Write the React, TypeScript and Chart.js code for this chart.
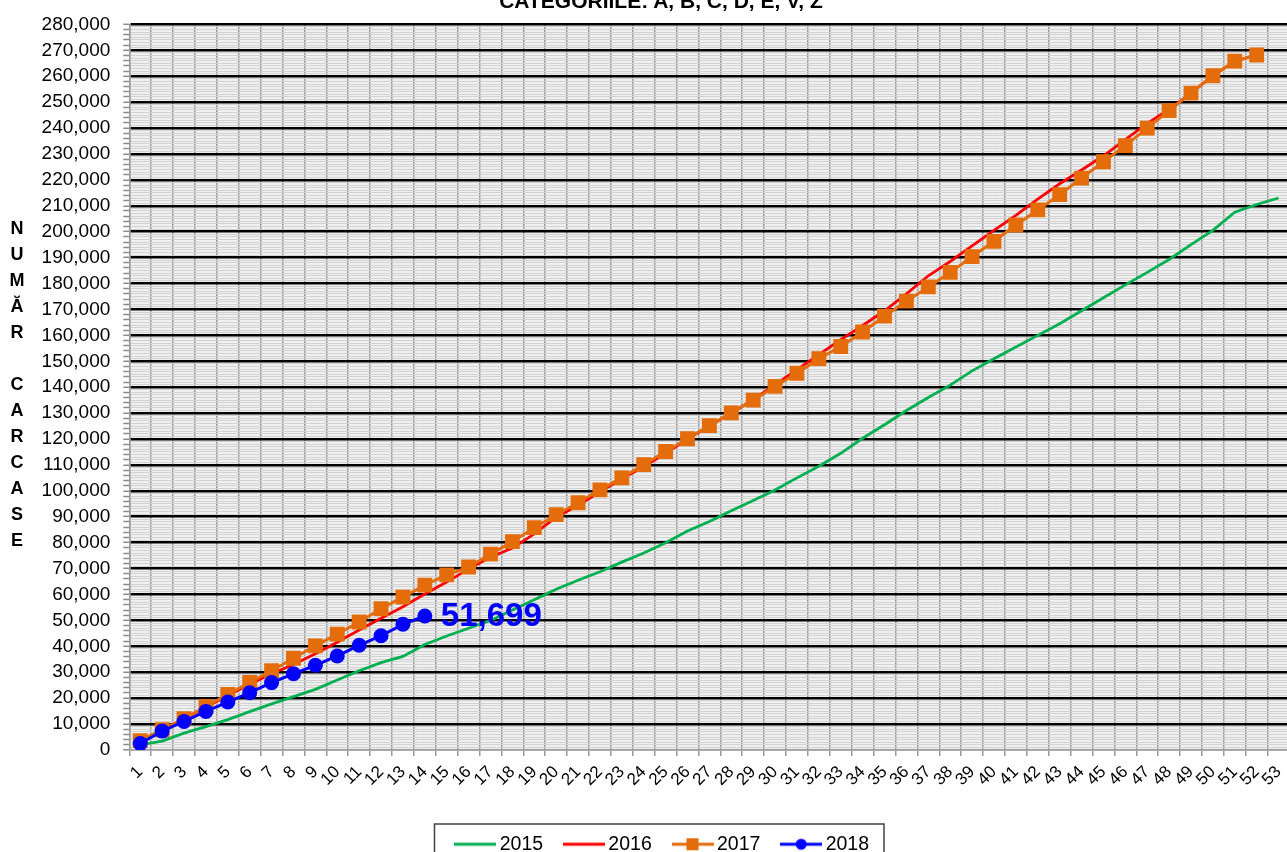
import React, { useEffect, useRef } from 'react';
import { Chart, registerables } from 'chart.js';

Chart.register(...registerables);

const weeks = ['1', '2', '3', '4', '5', '6', '7', '8', '9', '10', '11', '12', '13', '14', '15', '16', '17', '18', '19', '20', '21', '22', '23', '24', '25', '26', '27', '28', '29', '30', '31', '32', '33', '34', '35', '36', '37', '38', '39', '40', '41', '42', '43', '44', '45', '46', '47', '48', '49', '50', '51', '52', '53'];

const seriesNames = ['2015', '2016', '2017', '2018'];

const values2015 = [2000, 3400, 6500, 9000, 11700, 14800, 17800, 20600, 23400, 27000, 30600, 33700, 36100, 40700, 44000, 47000, 50000, 54000, 58000, 62000, 65500, 68800, 72500, 76000, 80000, 84500, 88200, 92300, 96300, 100300, 105000, 109500, 114500, 120300, 125500, 131000, 136000, 140800, 146300, 151000, 155500, 160000, 164500, 169500, 174500, 179500, 184300, 189300, 195000, 200500, 207500, 210500, 213000];

const values2016 = [3500, 7600, 12000, 16500, 21000, 25400, 29400, 33000, 37100, 41600, 46300, 50800, 55300, 60200, 64800, 69900, 74400, 77900, 83400, 89900, 94300, 99600, 104700, 109300, 114500, 120000, 125000, 130000, 135200, 141000, 146800, 152600, 158300, 163800, 169500, 176000, 183000, 188500, 194500, 200500, 206300, 212600, 218500, 223800, 229300, 235500, 241800, 247200, 253500, 260200, 265800, 268200];

const values2017 = [3600, 7800, 12100, 16800, 21400, 26100, 30600, 35400, 40200, 44700, 49400, 54500, 59000, 63600, 67600, 70600, 75600, 80400, 85800, 90800, 95400, 100400, 105000, 110100, 115200, 120100, 125200, 130100, 135000, 140300, 145400, 151000, 155700, 161300, 167400, 173200, 178700, 184300, 190400, 196300, 202600, 208400, 214300, 220700, 227000, 233200, 240000, 246700, 253500, 260200, 265800, 268200];

const values2018 = [2500, 7300, 11000, 14900, 18500, 22100, 26000, 29400, 32700, 36300, 40400, 44100, 48500, 51699];

const lastValueLabel = '51,699';
const chartTitle = 'CATEGORIILE: A, B, C, D, E, V, Z';
const axisTitleLetters = ['N', 'U', 'M', 'Ă', 'R', '', 'C', 'A', 'R', 'C', 'A', 'S', 'E'];

const FONT = '"Liberation Sans", Arial, Helvetica, sans-serif';
const GREEN = '#00B050';
const RED = '#FF0000';
const ORANGE = '#E46C0A';
const BLUE = '#0000FF';

function legendImage(color: string, marker: 'none' | 'square' | 'circle'): HTMLCanvasElement {
  const c = document.createElement('canvas');
  c.width = 42;
  c.height = 16;
  const g = c.getContext('2d')!;
  g.strokeStyle = color;
  g.lineWidth = 3;
  g.beginPath();
  g.moveTo(0, 8);
  g.lineTo(42, 8);
  g.stroke();
  g.fillStyle = color;
  if (marker === 'square') g.fillRect(15, 2, 12, 12);
  if (marker === 'circle') {
    g.beginPath();
    g.arc(21, 8, 5.5, 0, Math.PI * 2);
    g.fill();
  }
  return c;
}

export default function App() {
  const canvasRef = useRef<HTMLCanvasElement | null>(null);

  useEffect(() => {
    if (!canvasRef.current) return;
    Chart.defaults.font.family = FONT;
    Chart.defaults.color = '#000';

    const legendImgs = [
      legendImage(GREEN, 'none'),
      legendImage(RED, 'none'),
      legendImage(ORANGE, 'square'),
      legendImage(BLUE, 'circle'),
    ];

    const plotBg = {
      id: 'plotBg',
      beforeDraw(chart: any) {
        const { ctx, chartArea } = chart;
        ctx.save();
        ctx.fillStyle = '#f0f0f0';
        ctx.fillRect(chartArea.left, chartArea.top, chartArea.right - chartArea.left, chartArea.bottom - chartArea.top);
        ctx.restore();
      },
    };

    const lastLabel = {
      id: 'lastLabel',
      afterDatasetsDraw(chart: any) {
        const meta = chart.getDatasetMeta(3);
        const pt = meta.data[meta.data.length - 1];
        if (!pt) return;
        const ctx = chart.ctx;
        ctx.save();
        ctx.font = 'bold 33px ' + FONT;
        ctx.fillStyle = BLUE;
        ctx.textBaseline = 'middle';
        ctx.textAlign = 'left';
        ctx.fillText(lastValueLabel, pt.x + 16, pt.y + 1);
        ctx.restore();
      },
    };

    const legendBorder = {
      id: 'legendBorder',
      afterDraw(chart: any) {
        const lg = chart.legend;
        if (!lg || !lg.legendHitBoxes || !lg.legendHitBoxes.length) return;
        const hb = lg.legendHitBoxes;
        const first = hb[0];
        const last = hb[hb.length - 1];
        const left = first.left - 26;
        const right = last.left + last.width + 15;
        const top = first.top - 10.5;
        const ctx = chart.ctx;
        ctx.save();
        ctx.strokeStyle = '#404040';
        ctx.lineWidth = 1.5;
        ctx.strokeRect(left, top, right - left, chart.height + 20 - top);
        ctx.restore();
      },
    };

    const chart = new Chart(canvasRef.current, {
      type: 'line',
      data: {
        labels: weeks,
        datasets: [
          {
            label: seriesNames[0],
            data: values2015,
            borderColor: GREEN,
            backgroundColor: GREEN,
            borderWidth: 2.8,
            pointRadius: 0,
            tension: 0,
            order: 3,
          },
          {
            label: seriesNames[1],
            data: values2016,
            borderColor: RED,
            backgroundColor: RED,
            borderWidth: 2.8,
            pointRadius: 0,
            tension: 0,
            order: 2,
          },
          {
            label: seriesNames[2],
            data: values2017,
            borderColor: ORANGE,
            backgroundColor: ORANGE,
            borderWidth: 3,
            pointStyle: 'rect',
            pointRadius: 10.5,
            pointBorderWidth: 0,
            pointBackgroundColor: ORANGE,
            tension: 0,
            order: 1,
          },
          {
            label: seriesNames[3],
            data: values2018,
            borderColor: BLUE,
            backgroundColor: BLUE,
            borderWidth: 3,
            pointStyle: 'circle',
            pointRadius: 7.5,
            pointBorderWidth: 0,
            pointBackgroundColor: BLUE,
            tension: 0,
            order: 0,
          },
        ],
      },
      options: {
        responsive: true,
        maintainAspectRatio: false,
        animation: false,
        events: [],
        layout: { padding: { left: 35, right: 5.5, top: 22, bottom: 0 } },
        plugins: {
          tooltip: { enabled: false },
          title: { display: false },
          legend: {
            display: true,
            position: 'bottom',
            labels: {
              usePointStyle: true,
              pointStyleWidth: 29.5,
              padding: 26,
              color: '#000',
              font: { size: 19.5, family: FONT },
              sort: (a: any, b: any) => a.datasetIndex - b.datasetIndex,
              generateLabels: (ch: any) => {
                const items = (Chart.defaults.plugins.legend.labels as any).generateLabels(ch);
                return items.map((it: any) => ({ ...it, pointStyle: legendImgs[it.datasetIndex] }));
              },
            },
          },
        },
        scales: {
          x: {
            type: 'category',
            offset: true,
            afterFit: (scale: any) => {
              scale.height = 58.5;
            },
            grid: {
              offset: true,
              color: '#9a9a9a',
              lineWidth: 1.5,
              tickLength: 6,
              tickColor: '#9a9a9a',
              z: -2,
            },
            border: { color: '#9a9a9a', width: 1.5 },
            ticks: {
              autoSkip: false,
              maxRotation: 45,
              minRotation: 45,
              padding: 6,
              color: '#000',
              font: { size: 17, family: FONT },
            },
          },
          y: {
            type: 'linear',
            min: 0,
            max: 280000,
            afterFit: (scale: any) => {
              scale.width = 94.3;
            },
            grid: {
              color: (ctx: any) => {
                const v = ctx.tick ? ctx.tick.value : 0;
                if (v === 0) return '#9a9a9a';
                return v % 10000 === 0 ? '#000000' : '#d2d2d2';
              },
              lineWidth: (ctx: any) => {
                const v = ctx.tick ? ctx.tick.value : 0;
                if (v === 0) return 1.5;
                return v % 10000 === 0 ? 2.6 : 1;
              },
              tickColor: (ctx: any) => {
                const v = ctx.tick ? ctx.tick.value : 0;
                return v % 2000 === 0 ? '#8a8a8a' : 'rgba(0,0,0,0)';
              },
              tickWidth: 1.5,
              tickLength: 6,
              z: -1,
            },
            border: { color: '#9a9a9a', width: 1.5 },
            ticks: {
              stepSize: 1000,
              autoSkip: false,
              padding: 13,
              color: '#000',
              font: { size: 19, family: FONT },
              callback: (v: any) => (Number(v) % 10000 === 0 ? Number(v).toLocaleString('en-US') : ''),
            },
          },
        },
      },
      plugins: [plotBg, lastLabel, legendBorder],
    } as any);

    return () => {
      chart.destroy();
    };
  }, []);

  return (
    <div
      style={{
        position: 'fixed',
        left: 0,
        top: 0,
        width: 1287,
        height: 852,
        overflow: 'hidden',
        background: '#fff',
      }}
    >
      <div style={{ position: 'absolute', left: 0, top: 0, width: 1300, height: 864 }}>
        <canvas ref={canvasRef} />
      </div>
      <div
        style={{
          position: 'absolute',
          left: 661,
          top: -10,
          transform: 'translateX(-50%)',
          whiteSpace: 'nowrap',
          fontFamily: FONT,
          fontWeight: 'bold',
          fontSize: 21,
          lineHeight: '21px',
          color: '#000',
        }}
      >
        {chartTitle}
      </div>
      <div
        style={{
          position: 'absolute',
          left: 6,
          top: 215,
          width: 22,
          textAlign: 'center',
          fontFamily: FONT,
          fontWeight: 'bold',
          fontSize: 18,
          lineHeight: '26px',
          color: '#000',
        }}
      >
        {axisTitleLetters.map((l, i) => (
          <div key={i} style={{ height: 26 }}>
            {l}
          </div>
        ))}
      </div>
    </div>
  );
}
